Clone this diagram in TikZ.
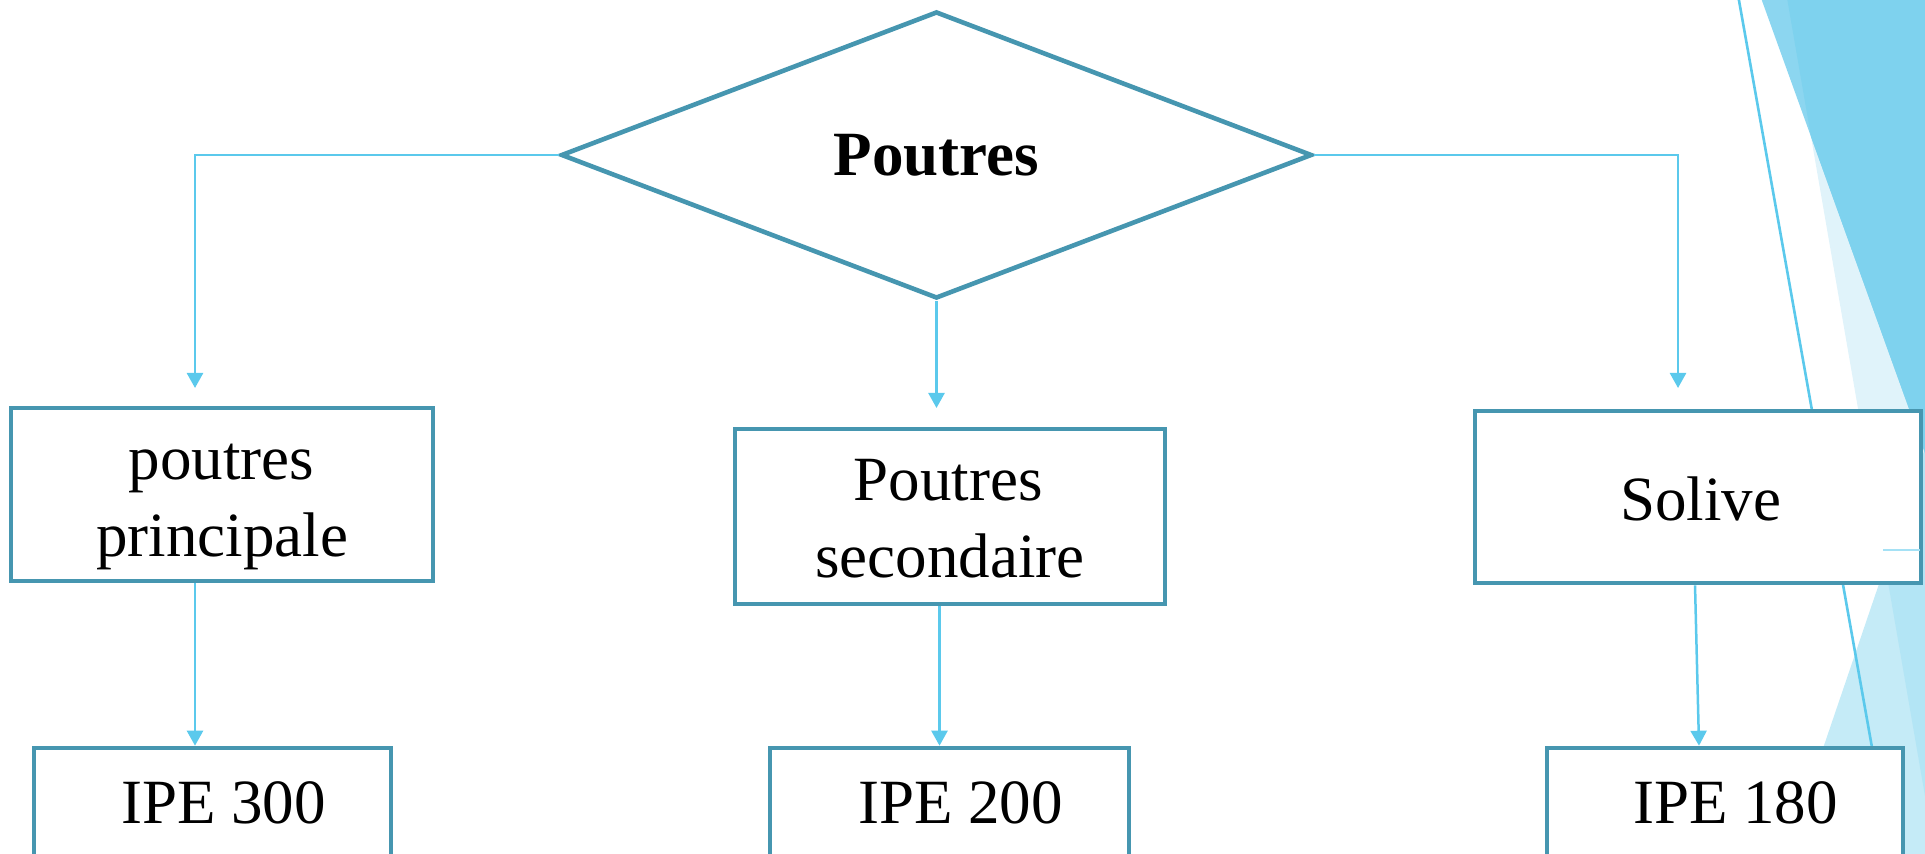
\documentclass[tikz,border=0pt]{standalone}
\usepackage{fontspec}
\setmainfont{Liberation Serif}
\usetikzlibrary{arrows.meta,shapes.geometric}

\definecolor{frame}{RGB}{70,150,176}
\definecolor{wire}{RGB}{91,201,236}
\definecolor{facetS}{HTML}{E0F3FA}
\definecolor{facetT}{HTML}{8CD6F0}
\definecolor{facetTS}{HTML}{7ED2EE}
\definecolor{facetB}{HTML}{C5EBF7}
\definecolor{facetBS}{HTML}{B3E5F5}
\definecolor{faint}{HTML}{A5E1F5}

\begin{document}
\begin{tikzpicture}[x=0.5pt,y=-0.5pt,
  box/.style={draw=frame, line width=2.3pt, fill=white, inner sep=0pt},
  decision/.style={diamond, draw=frame, line width=2.3pt, fill=white, inner sep=0pt,
    font=\fontsize{31.5pt}{38.5pt}\selectfont\bfseries},
  conn/.style={draw=wire, line width=1.25pt, -{Triangle[width=8pt,length=7.5pt]}},
  lbl/.style={anchor=base, inner sep=0pt, font=\fontsize{31.5pt}{38.5pt}\selectfont}]

\useasboundingbox (0,0) rectangle (1925,854);

% --- facet decoration at the right edge
\fill[facetS] (1787,-2) -- (1935,854) -- (1940,860) -- (1940,-2) -- cycle;
\fill[facetB] (1785,860) -- (1787,854) -- (1929,437) -- (1940,437) -- (1940,860) -- cycle;
\begin{scope}
  \clip (1787,-2) -- (1935,854) -- (1940,860) -- (1940,-2) -- cycle;
  \fill[facetBS] (1785,860) -- (1787,854) -- (1929,437) -- (1940,437) -- (1940,860) -- cycle;
\end{scope}
\fill[facetT] (1761,-2) -- (1930,467) -- (1940,467) -- (1940,-2) -- cycle;
\begin{scope}
  \clip (1787,-2) -- (1935,854) -- (1940,860) -- (1940,-2) -- cycle;
  \fill[facetTS] (1761,-2) -- (1930,467) -- (1940,467) -- (1940,-2) -- cycle;
\end{scope}
\draw[wire, line width=1.3pt] (1738,-5) -- (1876,770);

% --- decision node
\node[decision, minimum width=375.5pt, minimum height=143.5pt] (dia) at (936.5,155) {Poutres};

% --- first level boxes
\node[box, minimum width=211pt, minimum height=86.5pt] (b1) at (222,494.5) {};
\node[box, minimum width=215pt, minimum height=87.5pt] (b2) at (950,516.5) {};
\node[box, minimum width=223pt, minimum height=86pt]   (b3) at (1698,497) {};

% --- profile boxes
\node[box, minimum width=178.5pt, minimum height=76pt] (l1) at (212.5,824) {};
\node[box, minimum width=179.5pt, minimum height=76pt] (l2) at (949.5,824) {};
\node[box, minimum width=178pt,   minimum height=76pt] (l3) at (1725,824) {};

% --- labels
\node[lbl] (t1a) at (221.5,480) {poutres};
\node[lbl] (t1b) at (222,557) {principale};
\node[lbl] (t2a) at (948,501) {Poutres};
\node[lbl] (t2b) at (950,578) {secondaire};
\node[lbl] (t3)  at (1700.5,521) {Solive};
\node[lbl] (u1)  at (223.5,823) {IPE 300};
\node[lbl] (u2)  at (960.5,823) {IPE 200};
\node[lbl] (u3)  at (1735.5,823) {IPE 180};

\draw[faint, line width=0.6pt] (1883,550) -- (1920,550);

% --- connectors
\coordinate (a1) at (195,388);
\coordinate (a2) at (936.5,408);
\coordinate (a3) at (1678,388);

\draw[conn] (dia.west) -| (a1);
\draw[conn] (dia.south) -- (a2);
\draw[conn] (dia.east) -| (a3);

\draw[conn] (a1 |- b1.south) -- (a1 |- l1.north);
\draw[conn] ([xshift=1.5pt]a2 |- b2.south) -- ([xshift=1.5pt]a2 |- l2.north);
\draw[conn] ([xshift=-1.5pt]b3.south) -- ([xshift=-13pt]l3.north);
\end{tikzpicture}
\end{document}
